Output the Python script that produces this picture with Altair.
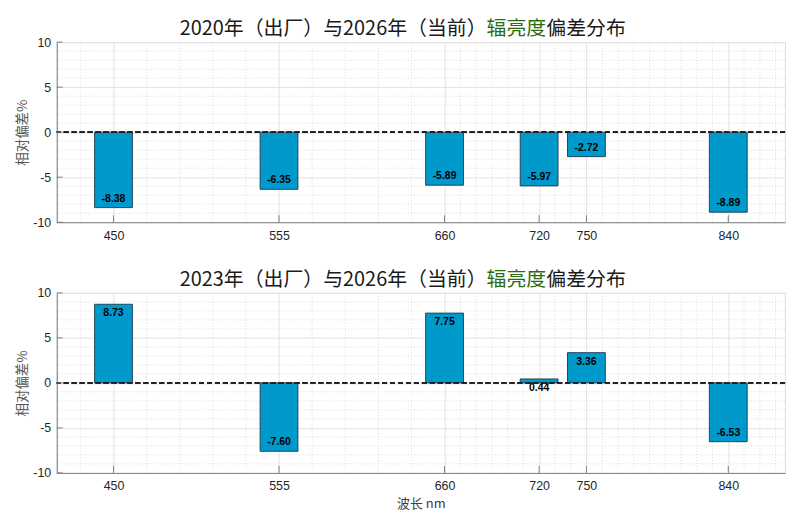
import altair as alt
import pandas as pd

# ---- data ----
wavelengths = [450, 555, 660, 720, 750, 840]
dev_2020 = [-8.38, -6.35, -5.89, -5.97, -2.72, -8.89]
dev_2023 = [8.73, -7.60, 7.75, 0.44, 3.36, -6.53]
x_minor = [429, 471, 492, 513, 534, 576, 597, 618, 639,
           670, 680, 690, 700, 710, 730, 740,
           760, 770, 780, 790, 800, 810, 820, 830, 850, 860, 870]
y_minor = [-9, -8, -7, -6, -4, -3, -2, -1, 1, 2, 3, 4, 6, 7, 8, 9]
y_major = [-10, -5, 0, 5, 10]
titles = [("2020年（出厂）与2026年（当前）", "辐亮度", "偏差分布"),
          ("2023年（出厂）与2026年（当前）", "辐亮度", "偏差分布")]

W, H = 732, 181
BAR_HALF = 12
XDOM = [414, 876]
FONT = "Liberation Sans"
CJK = "Noto Sans CJK SC"


def panel(values, title_parts, show_xtitle):
    df = pd.DataFrame({"wl": wavelengths, "v": values})
    df["x0"] = df["wl"] - BAR_HALF
    df["x1"] = df["wl"] + BAR_HALF
    df["ly"] = df["v"] - df["v"].apply(lambda t: 1 if t > 0 else -1)
    df["lab"] = df["v"].apply(lambda t: f"{t:.2f}")

    xscale = alt.Scale(domain=XDOM, nice=False, zero=False)
    yscale = alt.Scale(domain=[-10, 10], nice=False)

    xaxis = alt.Axis(values=wavelengths, grid=True, gridColor="#e2e2e2",
                     ticks=False, domainColor="#808080", labelFont=FONT,
                     labelFontSize=12.5, labelColor="#262626", labelPadding=7,
                     labelExpr="toString(datum.value)",
                     title="波长 nm" if show_xtitle else None,
                     titleFont=CJK, titleFontSize=13, titleFontWeight="normal",
                     titleColor="#404040", titlePadding=5)
    yaxis = alt.Axis(values=y_major, grid=True, gridColor="#e2e2e2",
                     ticks=False, domainColor="#808080", labelFont=FONT,
                     labelFontSize=12.5, labelColor="#262626", labelPadding=6,
                     labelExpr="toString(datum.value)",
                     title="相对偏差%", titleFont=CJK, titleFontSize=13.5,
                     titleFontWeight="normal", titleColor="#555555",
                     titlePadding=3)

    minor_x = alt.Chart(pd.DataFrame({"m": x_minor})).mark_rule(
        color="#dcdcdc", strokeDash=[1, 2], strokeWidth=1
    ).encode(x=alt.X("m:Q", scale=xscale, axis=xaxis))

    minor_y = alt.Chart(pd.DataFrame({"m": y_minor})).mark_rule(
        color="#dcdcdc", strokeDash=[1, 2], strokeWidth=1
    ).encode(y=alt.Y("m:Q", scale=yscale, axis=yaxis))

    bars = alt.Chart(df).mark_rect(
        color="#0099cc", stroke="#1b3b50", strokeWidth=0.9
    ).encode(
        x=alt.X("x0:Q", scale=xscale), x2="x1:Q",
        y=alt.Y("v:Q", scale=yscale), y2=alt.datum(0),
    )

    zero = alt.Chart(df).mark_rule(
        color="#222222", strokeDash=[5, 3], strokeWidth=1.1
    ).encode(y=alt.datum(0))

    labels = alt.Chart(df).mark_text(
        font=FONT, fontSize=10.5, fontWeight="bold", color="black",
        baseline="middle", align="center"
    ).encode(
        x=alt.X("wl:Q", scale=xscale),
        y=alt.Y("ly:Q", scale=yscale),
        text="lab:N",
    )

    xticks = alt.Chart(pd.DataFrame({"t": wavelengths})).mark_rule(
        color="#808080", strokeWidth=1
    ).encode(x=alt.X("t:Q", scale=xscale), y=alt.value(H - 7), y2=alt.value(H))

    yticks = alt.Chart(pd.DataFrame({"t": y_major})).mark_rule(
        color="#808080", strokeWidth=1
    ).encode(y=alt.Y("t:Q", scale=yscale), x=alt.value(0), x2=alt.value(6))

    tdf = pd.DataFrame({"a": [title_parts[0]], "b": [title_parts[1]],
                        "c": [title_parts[2]]})
    t1 = alt.Chart(tdf).mark_text(font=CJK, fontSize=20, color="#1a1a1a",
                                  align="right", baseline="middle").encode(
        text="a:N", x=alt.value(432), y=alt.value(-13))
    t2 = alt.Chart(tdf).mark_text(font=CJK, fontSize=20, color="#2e6b10",
                                  align="left", baseline="middle").encode(
        text="b:N", x=alt.value(432), y=alt.value(-13))
    t3 = alt.Chart(tdf).mark_text(font=CJK, fontSize=20, color="#1a1a1a",
                                  align="left", baseline="middle").encode(
        text="c:N", x=alt.value(492), y=alt.value(-13))

    return alt.layer(minor_x, minor_y, bars, zero, labels, xticks, yticks,
                     t1, t2, t3).properties(width=W, height=H)


chart = alt.vconcat(
    panel(dev_2020, titles[0], False),
    panel(dev_2023, titles[1], True),
    spacing=27,
).properties(
    padding={"top": 9, "left": 7, "right": 5, "bottom": 5}
).configure_view(stroke=None).configure(background="white")

chart.save("out.html", embed_options={"renderer": "svg", "actions": False})
